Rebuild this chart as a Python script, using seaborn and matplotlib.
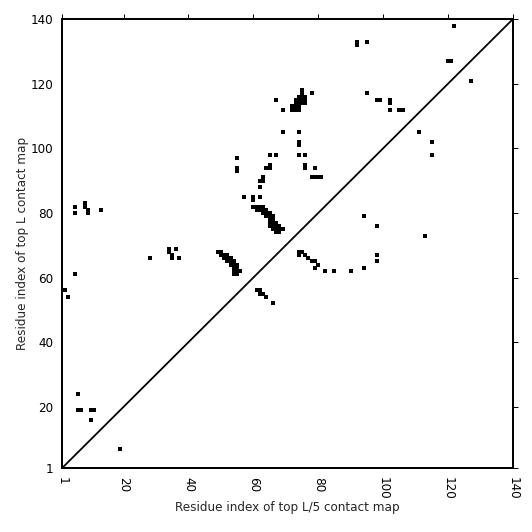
import pandas as pd
import matplotlib
matplotlib.use("Agg")
import matplotlib.pyplot as plt
import seaborn as sns

# contact points (residue i, residue j)
res_x = [5, 5, 8, 8, 9, 9, 13, 5, 2, 3,
         6, 6, 7, 10, 11, 10, 19,
         28, 34, 34, 35, 36, 35, 37,
         49, 50, 50, 51, 52, 51, 52, 53, 52, 53, 54, 53, 54, 55, 54, 55, 54, 55, 56, 54, 55,
         61, 62, 62, 63, 64, 66,
         60, 61, 62, 63, 61, 62, 63, 64, 63, 64, 65, 64, 65, 66, 65, 66, 65, 66, 67,
         65, 66, 67, 68, 66, 67, 68, 67, 68, 69,
         57, 60, 60, 62, 62, 62, 63, 63, 64, 65, 65, 55, 55, 55, 65, 67,
         74, 76, 76, 76, 79, 78, 79, 80, 81,
         69, 74, 74, 74, 67, 69,
         72, 73, 74, 72, 73, 74, 73, 74, 75, 76, 73, 74, 75, 76, 74, 75, 76, 75, 75, 78,
         74, 74, 75, 76, 77, 78, 79, 80, 79, 82, 85, 90, 94, 98, 98,
         94, 98, 113,
         122, 92, 92, 95, 120, 121, 127, 95, 98, 99, 102, 102, 102, 105, 106, 111, 115, 115]
res_y = [82, 80, 83, 82, 81, 80, 81, 61, 56, 54,
         24, 19, 19, 19, 19, 16, 7,
         66, 69, 68, 67, 69, 66, 66,
         68, 68, 67, 67, 67, 66, 66, 66, 65, 65, 65, 64, 64, 64, 63, 63, 62, 62, 62, 61, 61,
         56, 56, 55, 55, 54, 52,
         82, 82, 82, 82, 81, 81, 81, 81, 80, 80, 80, 79, 79, 79, 78, 78, 77, 77, 77,
         76, 76, 76, 76, 75, 75, 75, 74, 74, 75,
         85, 84, 85, 85, 88, 90, 90, 91, 94, 94, 95, 93, 94, 97, 98, 98,
         98, 98, 94, 95, 94, 91, 91, 91, 91,
         105, 105, 101, 102, 115, 112,
         112, 112, 112, 113, 113, 113, 114, 114, 114, 114, 115, 115, 115, 115, 116, 116, 116, 117, 118, 117,
         68, 67, 68, 67, 66, 65, 65, 64, 63, 62, 62, 62, 63, 67, 65,
         79, 76, 73,
         138, 132, 133, 133, 127, 127, 121, 117, 115, 115, 114, 115, 112, 112, 112, 105, 102, 98]

ticks = [1, 20, 40, 60, 80, 100, 120, 140]

df = pd.DataFrame({"x": res_x, "y": res_y})

sns.set_style("white")
fig = plt.figure(figsize=(532 / 72, 532 / 72), dpi=72)
ax = fig.add_axes([0.1165, 0.12, 0.8475, 0.844])

sns.scatterplot(data=df, x="x", y="y", marker="s", s=11, color="black",
                linewidth=0, ax=ax)
ax.plot([1, 140], [1, 140], color="black", linewidth=1.8)

ax.set_xlim(1, 140)
ax.set_ylim(1, 140)
ax.set_xticks(ticks)
ax.set_yticks(ticks)
ax.set_xticklabels([str(t) for t in ticks], rotation=270)
ax.tick_params(direction="out", length=5, width=1, top=True, right=True,
               labelsize=12, colors="black")
for sp in ax.spines.values():
    sp.set_linewidth(2)
    sp.set_color("black")
ax.set_xlabel("Residue index of top L/5 contact map", fontsize=12, labelpad=2)
ax.set_ylabel("Residue index of top L contact map", fontsize=12, labelpad=2)

fig.savefig("out.png", dpi=72)
